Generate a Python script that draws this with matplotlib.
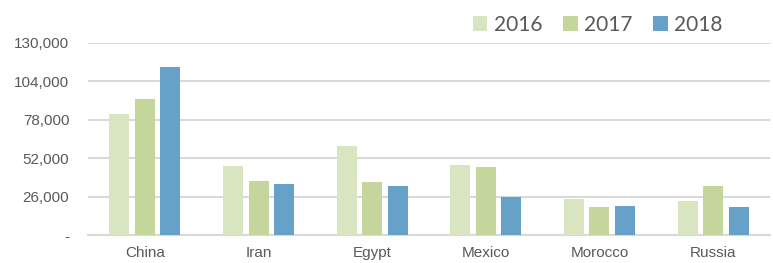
import numpy as np
import matplotlib
matplotlib.use('Agg')
import matplotlib.pyplot as plt
from matplotlib.ticker import FuncFormatter

# data
countries = ['China', 'Iran', 'Egypt', 'Mexico', 'Morocco', 'Russia']
years = ['2016', '2017', '2018']
v2016 = [82000, 46600, 60200, 47500, 24100, 23200]
v2017 = [91700, 36300, 35800, 46000, 18900, 33400]
v2018 = [113400, 34500, 33400, 25700, 19600, 18900]
yticks = [0, 26000, 52000, 78000, 104000, 130000]

colors = ['#d9e5c0', '#c4d69c', '#65a1c9']

plt.rcParams['font.family'] = ['Liberation Sans', 'DejaVu Sans']

fig = plt.figure(figsize=(7.73, 2.63), dpi=100)
ax = fig.add_axes([0.114, 0.106, 0.882, 0.732])

x = np.arange(len(countries))
w = 0.176
step = 0.224
for i, (vals, lab, c) in enumerate(zip([v2016, v2017, v2018], years, colors)):
    ax.bar(x + (i - 1) * step, vals, width=w, color=c, label=lab, zorder=3)

ax.set_xlim(-0.5, len(countries) - 0.5)
ax.set_ylim(0, 130000)
ax.set_yticks(yticks)
ax.yaxis.set_major_formatter(FuncFormatter(lambda v, p: '-' if v == 0 else f'{int(v):,}'))
ax.set_xticks(x)
ax.set_xticklabels(countries)

ax.grid(axis='y', color='#d9d9d9', linewidth=1.5, zorder=0)
for s in ['top', 'right', 'left']:
    ax.spines[s].set_visible(False)
ax.spines['bottom'].set_color('#d9d9d9')
ax.spines['bottom'].set_linewidth(1.5)
ax.tick_params(axis='both', length=0, labelsize=11, colors='#595959')
ax.tick_params(axis='y', pad=13.5)
ax.tick_params(axis='x', pad=8)

leg = fig.legend(loc='center', bbox_to_anchor=(0.773, 0.905), ncol=3, frameon=False,
                 handlelength=0.7, handleheight=0.7, handletextpad=0.3,
                 columnspacing=1.0, prop={'family': ['Lato', 'DejaVu Sans'], 'size': 15})
for t in leg.get_texts():
    t.set_color('#595959')

fig.savefig('out.png', dpi=100)
